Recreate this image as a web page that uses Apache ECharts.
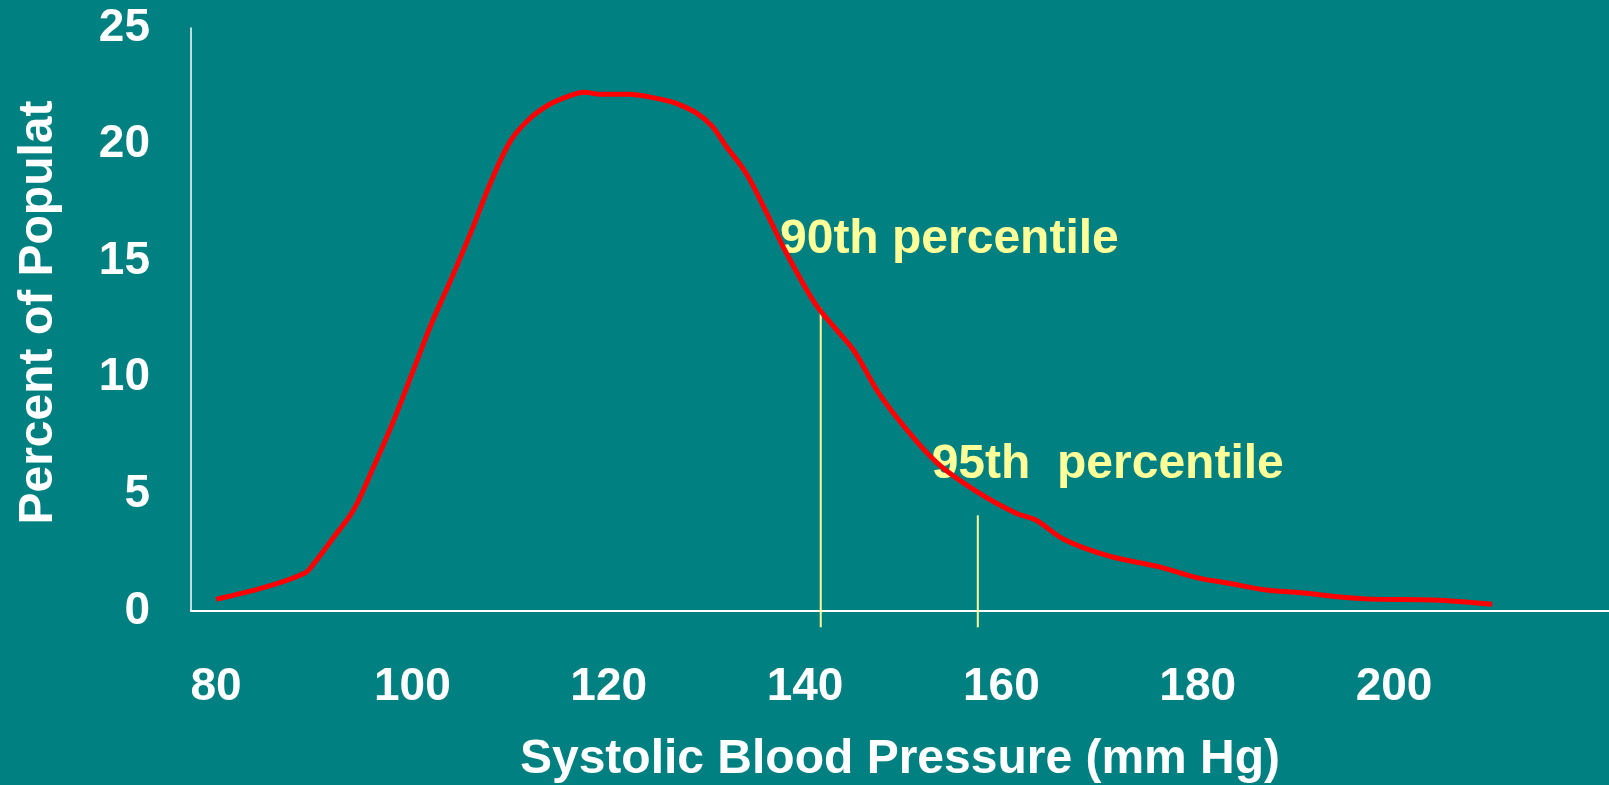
<!DOCTYPE html>
<html>
<head>
<meta charset="utf-8">
<script src="https://cdn.jsdelivr.net/npm/echarts@6/dist/echarts.min.js"></script>
<style>
  html, body { margin: 0; padding: 0; background: #008080; }
  #myChart { width: 1609px; height: 785px; }
</style>
</head>
<body>
<div id="myChart"></div>
<script>
// systolic BP (mm Hg) and percent of population
var bpValues = [80, 85, 89, 90, 92, 94, 96, 98, 100, 102,
    104, 106, 108, 110, 112, 114, 116, 117.5, 119, 122,
    125, 127, 129, 130.5, 132, 134, 136, 138, 141, 143,
    145, 147.5, 150, 153.5, 157.5, 161.5, 163.5, 166.5, 171, 176,
    180, 183, 187, 190, 197, 204, 210];
var percentValues = [0.5, 1.02, 1.62, 2.05, 3.17, 4.33, 6.13, 8.07, 10.22, 12.38,
    14.28, 16.28, 18.4, 20.16, 21.13, 21.73, 22.09, 22.25, 22.16, 22.16,
    21.97, 21.75, 21.34, 20.8, 19.91, 18.77, 17.15, 15.43, 13.2, 12.16,
    11.15, 9.35, 7.96, 6.33, 5.12, 4.19, 3.9, 3.04, 2.35, 1.9,
    1.42, 1.2, 0.9, 0.8, 0.52, 0.47, 0.29];

var xTickLabels = [80, 100, 120, 140, 160, 180, 200];

// percentile markers: x position, top and bottom of the line
var percentileNames = ['90th percentile', '95th  percentile'];
var percentileBp = [141.6, 157.6];
var percentileTop = [13.0, 4.1];
var percentileBottom = -0.7;
// where the percentile captions sit (left edge, middle of text)
var captionBp = [137.45, 152.9];
var captionPct = [15.9, 6.25];

var curveData = bpValues.map(function (v, i) { return [v, percentValues[i]]; });

var font = "'Liberation Sans', Arial, sans-serif";
var yellow = '#ffff99';

var series = [];
percentileBp.forEach(function (bp, i) {
    series.push({
        type: 'line',
        data: [[bp, percentileBottom], [bp, percentileTop[i]]],
        symbol: 'none',
        clip: false,
        silent: true,
        lineStyle: { color: yellow, width: 2, opacity: 1 }
    });
});
series.push({
    name: 'Percent',
    type: 'line',
    data: curveData,
    symbol: 'none',
    smooth: 0.35,
    lineStyle: { color: '#ff0000', width: 5 }
});
series.push({
    type: 'scatter',
    symbolSize: 0,
    clip: false,
    silent: true,
    itemStyle: { opacity: 1 },
    data: captionBp.map(function (bp, i) {
        return { name: percentileNames[i], value: [bp, captionPct[i]] };
    }),
    label: {
        show: true,
        position: 'right',
        distance: 0,
        formatter: '{b}',
        color: yellow,
        opacity: 1,
        fontFamily: font,
        fontWeight: 'bold',
        fontSize: 48
    }
});

var option = {
    backgroundColor: '#008080',
    animation: false,
    grid: { left: 191, right: 0, top: 28, bottom: 174, outerBoundsMode: 'none', containLabel: false },
    xAxis: {
        type: 'value',
        min: 77.45,
        max: 221.9,
        name: 'Systolic Blood Pressure (mm Hg)',
        nameLocation: 'middle',
        nameGap: 125,
        nameTextStyle: { color: '#fff', fontFamily: font, fontWeight: 'bold', fontSize: 48 },
        axisLine: { lineStyle: { color: '#fff', width: 2 } },
        axisTick: { show: false },
        splitLine: { show: false },
        axisLabel: {
            customValues: xTickLabels,
            margin: 53,
            color: '#fff',
            fontFamily: font,
            fontWeight: 'bold',
            fontSize: 46
        }
    },
    yAxis: {
        type: 'value',
        min: 0,
        max: 25,
        interval: 5,
        name: 'Percent of Populat',
        nameLocation: 'middle',
        nameRotate: 90,
        nameGap: 128,
        nameTextStyle: { color: '#fff', fontFamily: font, fontWeight: 'bold', fontSize: 48, padding: [0, 0, 0, 14] },
        axisLine: { show: true, lineStyle: { color: '#fff', width: 1.5 } },
        axisTick: { show: false },
        splitLine: { show: false },
        axisLabel: {
            margin: 41,
            color: '#fff',
            fontFamily: font,
            fontWeight: 'bold',
            fontSize: 46
        }
    },
    series: series
};

var myChart = echarts.init(document.getElementById('myChart'));
myChart.setOption(option);
</script>
</body>
</html>
